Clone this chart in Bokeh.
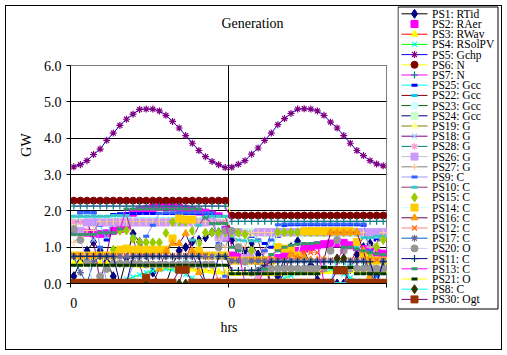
from bokeh.plotting import figure
from bokeh.layouts import row
from bokeh.models import Range1d, FixedTicker, PrintfTickFormatter, Grid, ColumnDataSource
from bokeh.core.properties import value
from bokeh.embed import file_html
from bokeh.resources import INLINE

hours = list(range(48))
tick_labels = {0: "0", 24: "0"}
y_ticks = [0, 1, 2, 3, 4, 5, 6]

ps1 = [0.2,0.6,0.9,1.14,0.9,0.6,0.2,0.0,0.7,1.37,1.14,0.8,0.3,0.0,0.0,0.5,0.9,1.0,1.15,1.2,1.27,1.41,1.41,1.41,
       1.2,0.7,0.9,1.1,0.8,0.4,0.0,0.2,0.7,1.0,1.16,0.9,0.5,0.1,0.0,0.0,0.0,0.0,0.4,0.8,1.0,1.1,0.9,0.6]
ps2 = [1.42,1.41,1.4,1.38,1.36,1.38,1.45,1.5,1.6,1.95,2.02,2.05,2.08,2.1,2.12,2.1,2.08,2.05,2.02,1.98,1.95,1.9,1.85,1.6,
       0.77,0.72,0.7,0.66,0.62,0.6,0.64,0.7,0.78,0.86,0.9,0.95,1.0,1.05,1.08,1.1,1.1,1.12,1.05,1.0,0.95,0.9,0.85,0.82]
ps3 = [0.56,0.56,0.55,0.55,0.56,0.55,0.55,0.54,0.53,0.52,0.5,0.5,0.5,0.48,0.46,0.45,0.44,0.42,0.4,0.38,0.36,0.34,0.32,0.3,
       0.28,0.28,0.29,0.28,0.28,0.28,0.28,0.29,0.3,0.3,0.3,0.31,0.32,0.32,0.33,0.34,0.34,0.35,0.36,0.36,0.36,0.36,0.36,0.36]
ps4 = [0,0,0,0,0,0,0.02,0.06,0.12,0.18,0.24,0.3,0.35,0.38,0.4,0.38,0.33,0.25,0.15,0.06,0.01,0,0,0,
       0,0,0,0,0,0,0.02,0.07,0.14,0.22,0.3,0.36,0.4,0.42,0.43,0.4,0.34,0.26,0.16,0.07,0.01,0,0,0]
ps5 = [3.21,3.27,3.38,3.55,3.70,3.94,4.14,4.35,4.52,4.66,4.79,4.80,4.80,4.75,4.63,4.46,4.28,4.07,3.86,3.66,3.49,3.36,3.27,3.19,
       3.20,3.28,3.38,3.56,3.73,3.94,4.14,4.37,4.54,4.68,4.80,4.81,4.80,4.75,4.63,4.44,4.28,4.07,3.86,3.66,3.52,3.38,3.29,3.24]
ps6 = [2.28,2.28,2.28,2.28,2.28,2.28,2.28,2.28,2.28,2.28,2.28,2.28,2.28,2.28,2.28,2.28,2.28,2.28,2.28,2.28,2.28,2.28,2.28,2.28,
       1.87,1.87,1.87,1.87,1.87,1.87,1.87,1.87,1.87,1.87,1.87,1.87,1.87,1.87,1.87,1.87,1.87,1.87,1.87,1.87,1.87,1.87,1.87,1.87]
ps7 = [2.13,2.13,2.13,2.13,2.13,2.13,2.13,2.13,2.13,2.13,2.13,2.13,2.13,2.13,2.13,2.13,2.13,2.13,2.13,2.13,2.13,2.13,2.13,2.13,
       1.71,1.71,1.71,1.71,1.71,1.71,1.71,1.71,1.71,1.71,1.71,1.71,1.71,1.71,1.71,1.71,1.71,1.71,1.71,1.71,1.71,1.71,1.71,1.71]
ps25 = [1.5,1.95,1.96,1.95,1.6,1.2,1.9,1.92,1.93,1.93,1.93,1.93,1.93,1.93,1.93,1.93,1.93,1.93,1.93,1.93,1.92,1.9,1.85,1.2,
        1.45,1.45,1.4,1.3,1.2,1.1,1.0,1.3,1.6,1.62,1.62,1.62,1.62,1.62,1.62,1.62,1.62,1.62,1.62,1.62,1.6,1.3,1.2,1.4]
ps22 = [1.78,1.78,1.78,1.78,1.78,1.78,1.78,1.78,1.78,1.78,1.78,1.78,1.78,1.78,1.78,1.78,1.78,1.78,1.78,1.78,1.78,1.78,1.78,1.78,
        1.47,1.47,1.47,1.47,1.47,1.47,1.47,1.47,1.47,1.47,1.47,1.47,1.47,1.47,1.47,1.47,1.47,1.47,1.47,1.47,1.47,1.47,1.47,1.47]
ps23 = [1.72,1.72,1.72,1.72,1.72,1.72,1.72,1.72,1.72,1.72,1.72,1.72,1.72,1.72,1.72,1.72,1.72,1.72,1.72,1.72,1.72,1.72,1.72,1.72,
        1.43,1.43,1.43,1.43,1.43,1.43,1.43,1.43,1.43,1.43,1.43,1.43,1.43,1.43,1.43,1.43,1.43,1.43,1.43,1.43,1.43,1.43,1.43,1.43]
ps24 = [1.70,1.70,1.70,1.70,1.70,1.70,1.70,1.70,1.70,1.70,1.70,1.70,1.70,1.70,1.70,1.70,1.70,1.70,1.70,1.70,1.70,1.70,1.70,1.70,
        1.40,1.40,1.40,1.40,1.40,1.40,1.40,1.40,1.40,1.40,1.40,1.40,1.40,1.40,1.40,1.40,1.40,1.40,1.40,1.40,1.40,1.40,1.40,1.40]
ps19 = [1.68,1.68,1.68,1.68,1.68,1.68,1.68,1.68,1.68,1.68,1.68,1.68,1.68,1.68,1.68,1.68,1.68,1.68,1.68,1.68,1.68,1.68,1.68,1.68,
        1.38,1.38,1.38,1.38,1.38,1.38,1.38,1.38,1.38,1.38,1.38,1.38,1.38,1.38,1.38,1.38,1.38,1.38,1.38,1.38,1.38,1.38,1.38,1.38]
ps18 = [1.71,1.71,1.71,1.2,0.0,0.8,1.71,1.71,1.71,1.71,1.71,1.71,1.71,1.71,1.71,1.71,1.71,1.71,1.71,1.71,1.71,1.71,1.71,1.71,
        1.41,1.41,1.41,1.41,1.41,1.41,1.41,1.41,1.41,1.41,1.41,1.41,1.41,1.41,1.41,1.41,1.41,1.41,1.41,1.41,1.41,1.41,1.41,1.41]
ps28 = [1.69,1.69,1.69,1.69,1.69,1.69,1.69,1.69,1.69,1.69,1.69,1.69,1.69,1.69,1.69,1.69,1.69,1.69,1.69,1.69,1.69,1.69,1.69,1.69,
        1.40,1.40,1.40,0.9,0.2,0.9,1.40,1.40,1.40,1.40,1.40,1.40,1.40,1.40,1.40,1.40,1.40,1.40,1.40,1.40,1.40,1.40,1.40,1.40]
ps26 = [1.41,1.45,1.68,1.68,1.68,1.68,1.68,1.68,1.68,1.68,1.68,1.68,1.68,1.68,1.68,1.68,1.68,1.68,1.68,1.68,1.68,1.7,1.27,1.27,
        1.41,1.41,0.69,0.82,1.41,1.41,1.41,1.41,1.41,1.41,1.41,1.41,1.41,1.41,1.41,1.41,1.41,1.41,1.41,1.41,1.41,1.41,1.41,1.41]
ps27 = [1.13,1.3,1.46,1.46,1.7,1.7,1.7,1.7,1.7,1.7,1.7,1.7,1.7,1.7,1.7,1.7,1.7,1.7,1.7,1.7,1.7,1.7,1.2,1.0,
        1.4,1.0,1.02,1.4,1.4,1.4,1.4,1.4,1.4,1.4,1.4,1.4,1.4,1.4,1.4,1.4,1.4,1.4,1.4,1.4,1.4,1.0,1.1,1.4]
ps9 = [1.4,1.95,1.95,1.95,1.0,0.0,0.0,0.0,0.0,0.5,0.9,1.3,1.6,1.93,1.95,1.95,1.95,1.95,1.95,1.95,1.95,1.95,1.1,0.2,
       0.0,0.0,0.0,0.0,0.3,0.9,1.2,1.62,1.64,1.64,1.64,1.64,1.64,1.64,1.64,1.64,1.64,1.64,1.64,1.64,1.64,0.9,0.2,0.0]
ps10 = [1.85,1.85,1.85,1.85,1.85,1.85,1.87,1.87,1.87,1.3,0.5,0.0,0.0,0.0,0.0,0.0,0.0,0.6,1.2,1.6,1.85,1.85,1.85,1.85,
        1.3,1.2,1.18,1.18,1.18,0.6,0.0,0.0,0.0,0.0,0.0,0.0,0.0,0.0,0.0,0.0,0.0,0.0,0.5,1.0,1.26,1.26,1.3,1.3]
ps15 = [0.0,0.0,0.0,0.0,0.0,0.0,0.93,1.45,1.46,1.23,1.14,1.13,1.13,1.13,1.39,1.69,1.7,1.7,1.45,1.1,1.4,1.4,1.4,1.4,
        1.4,1.4,1.35,0.9,0.63,0.63,0.63,1.41,1.41,1.41,1.41,1.41,1.41,1.41,1.41,1.41,1.41,1.41,1.41,1.41,0.89,0.72,1.0,1.2]
ps14 = [0.77,0.77,0.77,0.77,0.77,0.77,0.77,0.93,0.96,0.93,0.93,0.93,0.93,0.93,0.93,1.24,1.79,1.76,1.76,0.9,0.77,0.77,0.77,0.77,
        0.63,0.63,0.63,0.63,0.63,0.63,0.63,1.0,0.96,0.96,0.77,1.44,1.44,1.44,1.44,1.44,1.44,1.44,1.44,1.14,0.8,0.63,0.63,0.63]
ps16 = [0.0,0.0,0.0,0.0,0.0,0.0,0.0,0.0,0.0,0.0,0.0,0.0,0.0,0.4,0.9,1.1,1.1,1.38,0.9,0.3,0.0,0.0,0.0,0.0,
        0.0,0.0,0.0,0.0,0.0,0.0,0.0,0.0,0.3,0.8,0.72,0.72,0.65,0.65,0.65,1.41,1.41,1.41,1.41,1.41,0.9,0.2,0.0,0.0]
ps12 = [0.77,0.77,0.77,0.77,0.77,0.77,0.77,0.77,0.77,0.77,0.77,0.77,0.77,0.77,0.77,0.77,0.77,0.77,0.77,0.77,0.77,0.5,0.1,0.0,
        0.65,0.65,0.65,0.65,0.65,0.65,0.65,0.65,0.65,0.65,0.68,0.85,0.85,0.85,0.65,0.65,0.65,0.65,0.65,0.65,0.65,0.65,0.65,0.65]
ps17 = [0.74,0.3,0.0,0.6,0.74,0.74,0.74,0.74,0.74,0.74,0.74,0.74,0.74,0.74,0.74,0.74,0.74,0.74,0.74,0.74,0.74,0.74,0.74,0.74,
        0.62,0.62,0.62,0.62,0.62,0.62,0.62,0.62,0.62,0.62,0.62,0.62,0.62,0.62,0.62,0.62,0.62,0.62,0.62,0.62,0.62,0.3,0.0,0.62]
ps20 = [1.5,1.2,0.6,0.0,0.2,0.4,0.55,0.55,0.55,0.55,0.55,0.52,0.52,0.52,0.52,0.52,0.52,0.52,0.52,0.52,0.52,0.52,1.0,1.45,
        1.45,1.0,0.6,0.3,0.35,0.41,0.41,0.41,0.41,0.41,0.41,0.41,0.41,0.41,0.41,0.9,1.2,0.9,0.41,0.41,0.41,0.41,0.41,0.41]
ps11 = [0.75,0.75,0.75,0.75,0.75,0.75,0.75,0.0,0.0,0.75,0.75,0.75,0.75,0.75,0.75,0.75,0.75,0.75,0.75,0.75,0.0,0.0,0.75,0.75,
        0.36,0.36,0.36,0.36,0.36,0.5,0.6,0.6,0.6,0.6,0.6,0.6,0.6,0.6,0.6,0.6,0.6,0.6,0.6,0.6,0.6,0.6,0.0,0.6]
ps13 = [1.35,1.35,1.35,1.35,1.4,1.4,1.4,1.5,2.05,2.05,2.05,2.05,2.05,2.05,2.05,2.05,2.05,2.05,2.05,2.05,1.8,1.65,1.65,1.65,
        1.0,0.9,0.0,0.0,0.0,0.4,0.8,0.9,1.0,1.05,1.08,1.1,1.1,1.12,0.0,0.0,0.6,1.0,1.0,0.95,0.9,0.85,0.82,0.8]
ps21 = [0.5,0.5,0.5,0.5,0.5,0.5,0.5,0.5,0.5,0.5,0.5,0.5,0.5,0.5,0.5,0.5,0.5,0.5,0.5,0.5,0.5,0.5,0.5,0.5,
        0.27,0.27,0.27,0.27,0.27,0.27,0.27,0.27,0.27,0.27,0.27,0.27,0.27,0.27,0.44,0.44,0.44,0.44,0.44,0.27,0.27,0.27,0.27,0.27]
ps8 = [0,0,0,0,0,0,0,0,0,0,0,0,0,0,0,0,0,0,0,0,0,0,0,0,
       0,0,0,0,0,0,0,0,0,0,0,0,0,0,0,0,0.69,0.69,0,0,0,0,0,0]
ps30 = [0.02,0.02,0.02,0.02,0.02,0.02,0.02,0.02,0.02,0.02,0.02,0.16,0.02,0.02,0.02,0.02,0.38,0.38,0.02,0.02,0.02,0.02,0.02,0.02,
        0.02,0.02,0.02,0.02,0.02,0.02,0.02,0.02,0.02,0.02,0.02,0.02,0.02,0.02,0.02,0.02,0.36,0.36,0.02,0.02,0.02,0.02,0.02,0.02]

# (label, values, line colour, marker, marker colour)
series = [
    ("PS1:  RTid", ps1, "#000000", "diamond", "#000080"),
    ("PS2:  RAer", ps2, None, "square", "#FF00FF"),
    ("PS3:  RWav", ps3, "#FF0000", "triangle", "#FFFF00"),
    ("PS4:  RSolPV", ps4, "#00FF00", "x", "#00FFFF"),
    ("PS5:  Gchp", ps5, "#0000FF", "asterisk", "#800080"),
    ("PS6:  N", ps6, "#FFFF00", "circle", "#800000"),
    ("PS7:  N", ps7, "#FF00FF", "cross", "#008080"),
    ("PS25:  Gcc", ps25, "#00FFFF", "dash", "#0000FF"),
    ("PS22:  Gcc", ps22, "#800000", "dash", "#00CCFF"),
    ("PS23:  Gcc", ps23, "#006600", "circle", "#CCFFFF"),
    ("PS24:  Gcc", ps24, "#000080", "square", "#CCFFCC"),
    ("PS19:  G", ps19, "#808000", "triangle", "#FFFF99"),
    ("PS18:  G", ps18, "#800080", "x", "#99CCFF"),
    ("PS28:  G", ps28, "#008080", "asterisk", "#FF99CC"),
    ("PS26:  G", ps26, "#C0C0C0", "square", "#CC99FF"),
    ("PS27:  G", ps27, "#808080", "cross", "#FFCC99"),
    ("PS9:  C", ps9, "#9999FF", "dash", "#3366FF"),
    ("PS10:  C", ps10, "#993366", "dash", "#33CCCC"),
    ("PS15:  C", ps15, "#FFFFCC", "diamond", "#99CC00"),
    ("PS14:  C", ps14, "#CCFFFF", "square", "#FFCC00"),
    ("PS16:  C", ps16, "#660066", "triangle", "#FF9900"),
    ("PS12:  C", ps12, "#FF8080", "x", "#FF6600"),
    ("PS17:  C", ps17, "#0066CC", "asterisk", "#666699"),
    ("PS20:  O", ps20, "#CCCCFF", "circle", "#969696"),
    ("PS11:  C", ps11, "#000080", "cross", "#003366"),
    ("PS13:  C", ps13, "#FF00FF", "dash", "#339966"),
    ("PS21:  O", ps21, "#FFFF00", "dash", "#003300"),
    ("PS8:  C", ps8, "#00FFFF", "diamond", "#333300"),
    ("PS30:  Ogt", ps30, "#800080", "square", "#993300"),
]

SERIF = "Liberation Serif"

# ---- layout geometry (pixels) ----
W, H = 507, 355
LEG_W = 110
MAIN_W = W - LEG_W                    # 397
PLOT_L, PLOT_R = 70, 386              # plot-area left / right (x of 0 h and 48 h)
PLOT_T, PLOT_B = 65, 283              # y of 6.0 and 0.0
FRAME_T = 6                           # frame reaches up to hold the title
px_per_h = (PLOT_R - PLOT_L) / 48.0
px_per_gw = (PLOT_B - PLOT_T) / 6.0
x_end = -0.5 + (MAIN_W - 10 - PLOT_L) / px_per_h
y_top = (PLOT_B - FRAME_T) / px_per_gw

p = figure(width=MAIN_W, height=H, output_backend="svg", toolbar_location=None,
           x_range=Range1d(-0.5, x_end), y_range=Range1d(0, y_top),
           min_border_left=PLOT_L, min_border_right=10, min_border_top=FRAME_T,
           min_border_bottom=H - PLOT_B,
           background_fill_color="white", border_fill_color=None)
p.outline_line_color = None
p.frame_align = False

# title (inside the tall frame, above the plot area)
p.text(x=[-0.5 + (252 - PLOT_L) / px_per_h], y=[(PLOT_B - 23) / px_per_gw], text=["Generation"],
       text_font=value(SERIF), text_font_size=value("14px"), text_color="black",
       text_align="center", text_baseline="middle")

# axes
p.yaxis.ticker = FixedTicker(ticks=y_ticks)
p.yaxis.bounds = (0, 6)
p.yaxis.formatter = PrintfTickFormatter(format="%.1f")
p.yaxis.major_tick_out = 4
p.yaxis.major_tick_in = 0
p.yaxis.minor_tick_out = 0
p.yaxis.major_label_standoff = 5
p.yaxis.axis_label = "GW"
p.yaxis.axis_label_standoff = 7

p.xaxis.ticker = FixedTicker(ticks=[0, 24], minor_ticks=[-0.5, 23.5, 47.5])
p.xaxis.bounds = (-0.5, 47.5)
p.xaxis.major_label_overrides = tick_labels
p.xaxis.major_tick_out = 0
p.xaxis.major_tick_in = 0
p.xaxis.minor_tick_out = 4
p.xaxis.minor_tick_in = 0
p.xaxis.major_label_standoff = 10
p.xaxis.axis_label = "hrs"
p.xaxis.axis_label_standoff = 9

for ax in (p.xaxis, p.yaxis):
    ax.axis_line_color = "black"
    ax.major_tick_line_color = "black"
    ax.minor_tick_line_color = "black"
    ax.major_label_text_font = SERIF
    ax.major_label_text_font_size = "14px"
    ax.major_label_text_color = "black"
    ax.axis_label_text_font = SERIF
    ax.axis_label_text_font_size = "14px"
    ax.axis_label_text_font_style = "normal"
    ax.axis_label_text_color = "black"

p.ygrid.ticker = FixedTicker(ticks=[1, 2, 3, 4, 5])
p.ygrid.grid_line_color = "black"
p.xgrid.visible = False
p.add_layout(Grid(dimension=1, ticker=FixedTicker(ticks=[6]), grid_line_color="#808080"))
# day divider (black) and right edge of the plot area (grey), from 0 to 6 GW
p.segment(x0=[23.5, 47.5], y0=[0, 0], x1=[23.5, 47.5], y1=[6, 6],
          line_color=["black", "#808080"], line_width=1)


def add_marker(fig, src, mk, mcol):
    if mk == "dash":
        return fig.scatter("x", "y", source=src, marker="dash", size=6, line_color=mcol, line_width=3)
    if mk in ("x", "asterisk", "cross"):
        return fig.scatter("x", "y", source=src, marker=mk, size=7, line_color=mcol, line_width=1.2)
    return fig.scatter("x", "y", source=src, marker=mk, size=9 if mk == "diamond" else 7,
                       fill_color=mcol, line_color=mcol)


for label, vals, lcol, mk, mcol in series:
    src = ColumnDataSource(dict(x=hours, y=vals))
    if lcol is not None:
        p.line("x", "y", source=src, line_color=lcol, line_width=1)
    add_marker(p, src, mk, mcol)

# ---- legend panel (pixel coordinates, y downwards) ----
q = figure(width=LEG_W, height=H, output_backend="svg", toolbar_location=None,
           x_range=Range1d(0, LEG_W), y_range=Range1d(H, 0),
           x_axis_location=None, y_axis_location=None,
           min_border=0, background_fill_color=None, border_fill_color=None)
q.outline_line_color = None
q.grid.visible = False
q.frame_align = False

q.quad(left=[0.5], right=[100.5], top=[6.5], bottom=[308.5],
       fill_color="white", line_color="black", line_width=1)

row_y = [13.3 + 10.2 * i for i in range(len(series))]
for (label, vals, lcol, mk, mcol), yc in zip(series, row_y):
    if lcol is not None:
        q.line(x=[4, 30], y=[yc, yc], line_color=lcol, line_width=1)
    add_marker(q, ColumnDataSource(dict(x=[17], y=[yc])), mk, mcol)
q.text(x=[34.5] * len(series), y=row_y, text=[s[0] for s in series],
       text_font=value(SERIF), text_font_size=value("11.5px"), text_color="black",
       text_align="left", text_baseline="middle")

layout = row(p, q, spacing=0)
layout.styles = {"outline": "1px solid black", "outline-offset": "-6px"}

open("out.html", "w").write(file_html(layout, INLINE))
